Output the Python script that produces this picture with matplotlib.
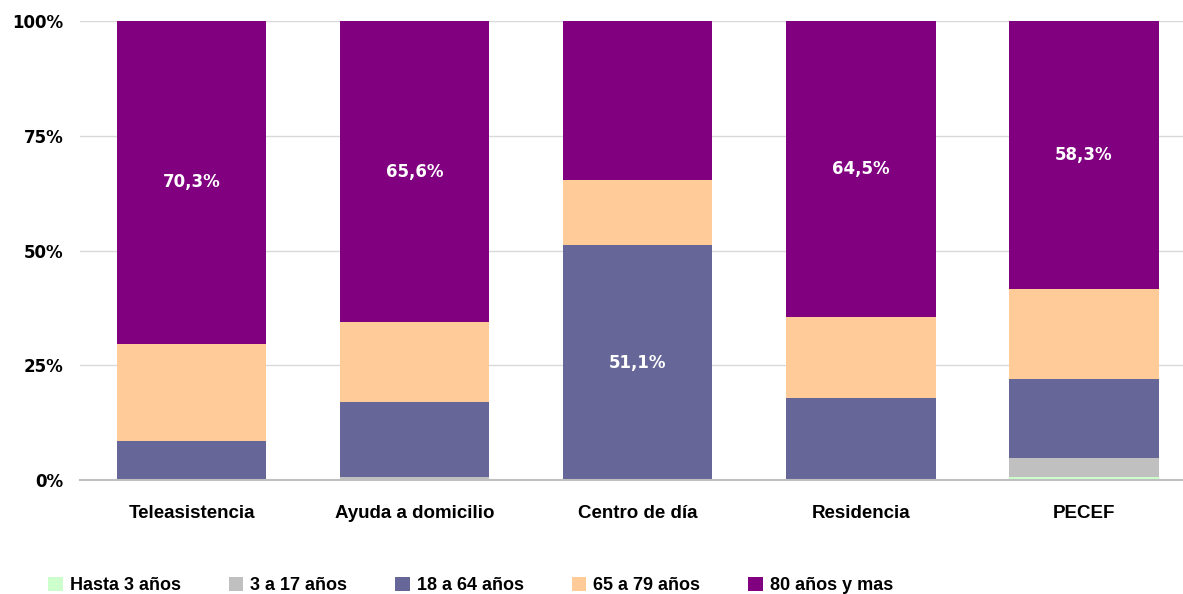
import numpy as np
import matplotlib.pyplot as plt

# Data (share of users by age group, %)
services = ['Teleasistencia', 'Ayuda a domicilio', 'Centro de día', 'Residencia', 'PECEF']
age_groups = ['Hasta 3 años', '3 a 17 años', '18 a 64 años', '65 a 79 años', '80 años y mas']
hasta_3 = [0.0, 0.0, 0.0, 0.0, 0.6]
de_3_17 = [0.0, 0.6, 0.0, 0.0, 4.2]
de_18_64 = [8.5, 16.4, 51.1, 17.9, 17.2]
de_65_79 = [21.2, 17.4, 14.3, 17.6, 19.7]
mas_80 = [70.3, 65.6, 34.6, 64.5, 58.3]

colors = ['#CCFFCC', '#C0C0C0', '#666699', '#FFCC99', '#800080']
series = [hasta_3, de_3_17, de_18_64, de_65_79, mas_80]

fig = plt.figure(figsize=(11.83, 5.94), dpi=100)
ax = fig.add_axes([80/1183, 114/594, 1103/1183, 459/594])

x = np.arange(len(services))
bottom = np.zeros(len(services))
bars = []
for vals, col, lab in zip(series, colors, age_groups):
    v = np.array(vals) / 100
    b = ax.bar(x, v, 0.67, bottom=bottom, color=col, label=lab, zorder=2)
    bars.append(b)
    bottom += v

# value labels on the main segments (centred in the segment)
for i in range(len(services)):
    if i == 2:
        y = de_18_64[i] / 200
        txt = f'{de_18_64[i]:.1f}%'.replace('.', ',')
    else:
        y = 1 - mas_80[i] / 200
        txt = f'{mas_80[i]:.1f}%'.replace('.', ',')
    ax.text(x[i], y, txt, ha='center', va='center', color='white',
            fontsize=12, fontweight='bold', family='DejaVu Sans')

ax.set_ylim(0, 1)
ax.set_xlim(-0.5, 4.444)
ax.set_yticks([0, 0.25, 0.5, 0.75, 1])
ax.set_yticklabels(['0%', '25%', '50%', '75%', '100%'])
ax.set_xticks(x)
ax.set_xticklabels(services)
ax.tick_params(axis='y', length=0, pad=12, labelsize=12)
ax.tick_params(axis='x', length=0, pad=18, labelsize=13.5)
for t in ax.get_yticklabels():
    t.set_fontweight('bold')
    t.set_family('DejaVu Sans')
for t in ax.get_xticklabels():
    t.set_fontweight('bold')
    t.set_family('Liberation Sans')

ax.grid(axis='y', color='#D9D9D9', linewidth=1.0, zorder=0)
for s in ['top', 'right', 'left']:
    ax.spines[s].set_visible(False)
ax.spines['bottom'].set_color('#BFBFBF')
ax.spines['bottom'].set_linewidth(1.5)

fig.legend(handles=bars, labels=age_groups, loc='lower left', ncol=5,
           bbox_to_anchor=(32/1183, -0.028), frameon=False,
           handlelength=0.8, handleheight=0.8, handletextpad=0.4, columnspacing=2.65,
           prop={'family': 'Liberation Sans', 'weight': 'bold', 'size': 13})

fig.savefig('out.png', dpi=100)
